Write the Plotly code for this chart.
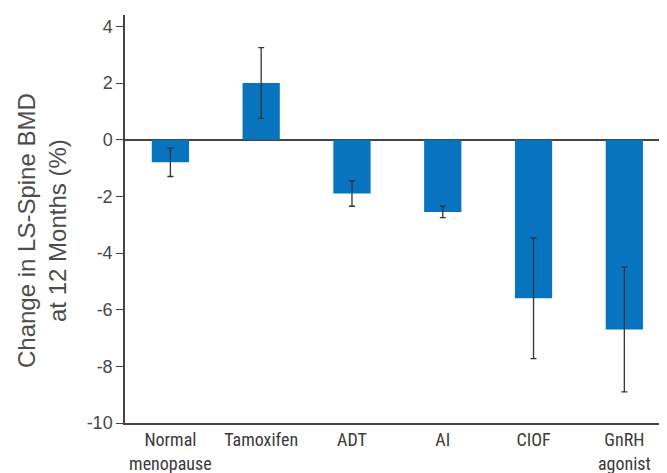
import plotly.graph_objects as go

categories = ["Normal<br>menopause", "Tamoxifen", "ADT", "AI", "CIOF", "GnRH<br>agonist"]
values = [-0.8, 2.0, -1.9, -2.55, -5.6, -6.7]
errors = [0.5, 1.25, 0.45, 0.2, 2.13, 2.2]
y_ticks = [4, 2, 0, -2, -4, -6, -8, -10]
y_title = "Change in LS-Spine BMD<br>at 12 Months (%)"

fig = go.Figure()
fig.add_trace(go.Bar(
    x=categories, y=values,
    marker=dict(color="#0873bf", line=dict(width=0)),
    width=0.41,
    error_y=dict(type="data", array=errors, visible=True, color="#333333", thickness=1.3, width=3),
))

# page body has an 8px margin: the figure is sized so that it fills the 667x473 window
fig.update_layout(
    width=659, height=465,
    margin=dict(l=117, r=0, t=7, b=50, autoexpand=False),
    paper_bgcolor="white", plot_bgcolor="white",
    showlegend=False,
    font=dict(family="Liberation Sans, Arial, sans-serif", color="#4d4d4d"),
)
fig.add_annotation(
    text=y_title, textangle=-90, showarrow=False,
    xref="paper", yref="paper", x=-0.152, y=0.472,
    xanchor="center", yanchor="middle",
    font=dict(size=24, color="#4d4d4d"),
)
fig.update_yaxes(
    range=[-10, 4.4], tickvals=y_ticks, ticktext=[str(v) for v in y_ticks],
    showgrid=False, zeroline=True, zerolinecolor="#444444", zerolinewidth=1.5,
    showline=True, linecolor="#444444", linewidth=1.5,
    ticks="outside", ticklen=7, tickcolor="#444444", tickwidth=1.2,
    tickfont=dict(size=18, color="#474747"),
    automargin=False,
)
fig.update_xaxes(
    range=[-0.5, 5.47],
    showgrid=False, showline=True, linecolor="#444444", linewidth=1.5,
    ticks="", tickfont=dict(size=18, color="#3a3a3a", family="Liberation Sans Narrow, Arial Narrow, Roboto Condensed, sans-serif"),
    automargin=False,
)

fig.write_html("out.html")
